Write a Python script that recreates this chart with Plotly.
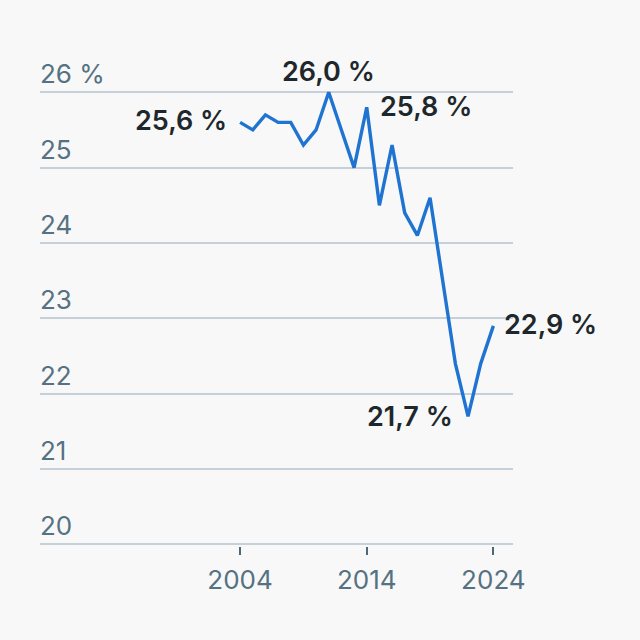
import plotly.graph_objects as go

years = list(range(2004, 2025))
values = [25.6, 25.5, 25.7, 25.6, 25.6, 25.3, 25.5, 26.0, 25.5, 25.0, 25.8,
          24.5, 25.3, 24.4, 24.1, 24.6, 23.5, 22.4, 21.7, 22.4, 22.9]

y_ticks = [20, 21, 22, 23, 24, 25, 26]
y_ticktext = ["20", "21", "22", "23", "24", "25", "26 %"]
x_ticks = [2004, 2014, 2024]

labels = [  # (year, value, text, xanchor, yanchor, xshift, yshift)
    (2004, 25.6, "25,6 %", "right", "middle", -11, 2),
    (2011, 26.0, "26,0 %", "center", "bottom", 0, 2),
    (2014, 25.8, "25,8 %", "left", "middle", 11, 1),
    (2022, 21.7, "21,7 %", "right", "middle", -13, 0),
    (2024, 22.9, "22,9 %", "left", "middle", 9, 1),
]

fig = go.Figure()
fig.add_trace(go.Scatter(x=years, y=values, mode="lines",
                         line=dict(color="#1f74d1", width=3.4),
                         hoverinfo="skip"))

for yr, v, t, xa, ya, xs, ys in labels:
    fig.add_annotation(x=yr, y=v, text=t, showarrow=False,
                       xanchor=xa, yanchor=ya, xshift=xs, yshift=ys,
                       font=dict(family="Inter", size=27, color="#1e282c",
                                 weight=600))

grid = "#c5d0d9"
axis_font = dict(family="Inter", size=26, color="#557282")
fig.update_layout(
    width=640, height=640,
    paper_bgcolor="#f8f8f8", plot_bgcolor="#f8f8f8",
    margin=dict(l=40, r=127, t=47, b=94),
    showlegend=False,
    xaxis=dict(range=[1988.2, 2025.55], tickvals=x_ticks,
               ticks="outside", ticklen=8, tickwidth=2, tickcolor="#4d6878",
               ticklabelstandoff=3,
               showgrid=False, zeroline=False, showline=False,
               tickfont=axis_font),
    yaxis=dict(range=[19.98, 26.6], tickvals=y_ticks, ticktext=y_ticktext,
               ticklabelposition="inside top", ticklabelstandoff=-3,
               showgrid=True, gridcolor=grid,
               gridwidth=2, zeroline=False, showline=False,
               tickfont=axis_font),
)

fig.write_html("out.html", config={"displayModeBar": False},
               post_script="document.body.style.margin='0';"
                           "document.body.style.background='#f8f8f8';")
